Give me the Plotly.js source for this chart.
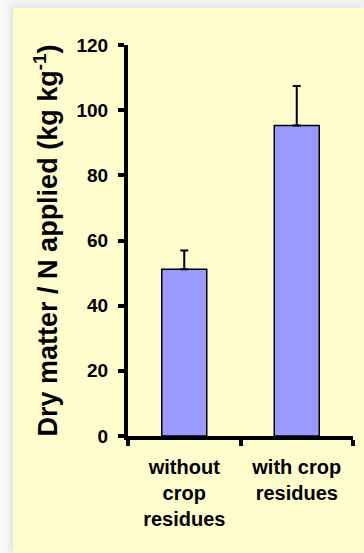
<!DOCTYPE html>
<html>
<head>
<meta charset="utf-8">
<script src="https://cdn.plot.ly/plotly-3.0.1.min.js"></script>
<style>
  html, body { margin: 0; padding: 0; width: 364px; height: 553px; overflow: hidden;
    background: linear-gradient(to right, #fbfbfb 0px, #f1f1f1 13px); }
  #wrap { position: absolute; left: 13px; top: 8px; width: 351px; height: 545px;
    background: #FFFCCE; box-shadow: -3px -2px 6px rgba(0,0,0,0.06); }
  #chart { width: 351px; height: 545px; }
</style>
</head>
<body>
<div id="wrap"><div id="chart"></div></div>
<script>
// Data
const categories = ["without crop residues", "with crop residues"];
const tickLabels = ["without<br>crop<br>residues", "with crop<br>residues"];
const values = [51.2, 95.3];
const errorsUp = [5.7, 12.1];
const errorsDown = [0, 0];
const yTickVals = [0, 20, 40, 60, 80, 100, 120];
const yTitle = "Dry matter / N applied (kg kg<sup>-1</sup>)";

const FONT = "Liberation Sans, Arial, sans-serif";

const trace = {
  type: "bar",
  x: categories,
  y: values,
  marker: { color: "#9999FF", line: { color: "#000000", width: 1.5 } },
  error_y: {
    type: "data", symmetric: false,
    array: errorsUp, arrayminus: errorsDown,
    color: "#000000", thickness: 2, width: 4, visible: true
  },
  hoverinfo: "none"
};

const layout = {
  width: 351, height: 545,
  paper_bgcolor: "rgba(0,0,0,0)",
  plot_bgcolor: "rgba(0,0,0,0)",
  margin: { l: 115, r: 11, t: 37, b: 117 },
  showlegend: false,
  bargap: 0.6,
  font: { family: FONT, color: "#000000" },
  xaxis: {
    type: "category",
    tickmode: "array",
    tickvals: categories,
    ticktext: tickLabels,
    tickson: "boundaries",
    tickangle: 0,
    ticks: "outside", ticklen: 6, tickwidth: 4, tickcolor: "#000",
    showline: true, linewidth: 4, linecolor: "#000",
    showgrid: false, zeroline: false,
    tickfont: { family: FONT, size: 20, color: "#000", weight: "bold" },
    ticklabelstandoff: 10,
    fixedrange: true
  },
  yaxis: {
    range: [0, 120],
    tickmode: "array",
    tickvals: yTickVals,
    ticktext: yTickVals.map(String),
    ticks: "outside", ticklen: 6, tickwidth: 4, tickcolor: "#000",
    showline: true, linewidth: 4, linecolor: "#000",
    showgrid: false, zeroline: false,
    tickfont: { family: FONT, size: 19, color: "#000", weight: "bold" },
    ticklabelstandoff: 6,
    title: { text: yTitle, font: { family: FONT, size: 27, color: "#000", weight: "bold" }, standoff: 12 },
    fixedrange: true
  }
};

Plotly.newPlot("chart", [trace], layout, { displayModeBar: false, staticPlot: true });
</script>
</body>
</html>
